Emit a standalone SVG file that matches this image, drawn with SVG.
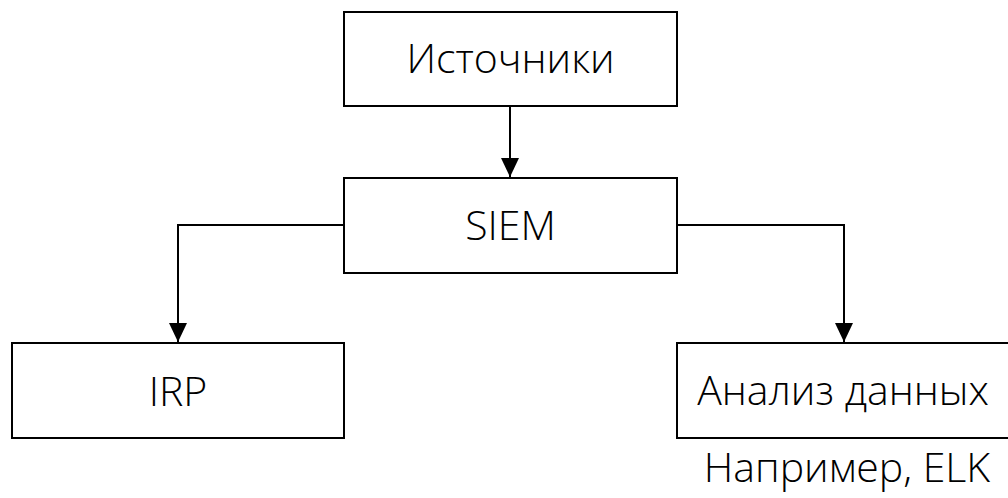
<svg xmlns="http://www.w3.org/2000/svg" width="1008" height="498" viewBox="0 0 1008 498">
<style>
.box{fill:#fff;stroke:#000;stroke-width:2}
.t{font-family:"Open Sans","Noto Sans",sans-serif;font-size:41px;font-weight:300;fill:#000;text-anchor:middle}
.c{fill:none;stroke:#000;stroke-width:2}
</style>
<defs>
<marker id="ah" markerWidth="19" markerHeight="18" refX="19" refY="9" orient="auto" markerUnits="userSpaceOnUse">
<path d="M0,0 L19,9 L0,18 z" fill="#000"/>
</marker>
</defs>
<rect width="1008" height="498" fill="#fff"/>
<g id="connectors">
<path class="c" d="M510,106 V177" marker-end="url(#ah)"/>
<path class="c" d="M344,225 H178 V342" marker-end="url(#ah)"/>
<path class="c" d="M677,225 H844 V342" marker-end="url(#ah)"/>
</g>
<g id="sources">
<rect class="box" x="344" y="12" width="333" height="94"/>
<text class="t" x="510.5" y="73">Источники</text>
</g>
<g id="siem">
<rect class="box" x="344" y="178" width="333" height="95"/>
<text class="t" x="510.5" y="240">SIEM</text>
</g>
<g id="irp">
<rect class="box" x="12" y="343" width="332" height="95"/>
<text class="t" x="178" y="406">IRP</text>
</g>
<g id="analysis">
<rect class="box" x="677" y="343" width="340" height="95"/>
<text class="t" x="843" y="405">Анализ данных</text>
</g>
<g id="note">
<text class="t" x="847" y="482">Например, ELK</text>
</g>
</svg>
